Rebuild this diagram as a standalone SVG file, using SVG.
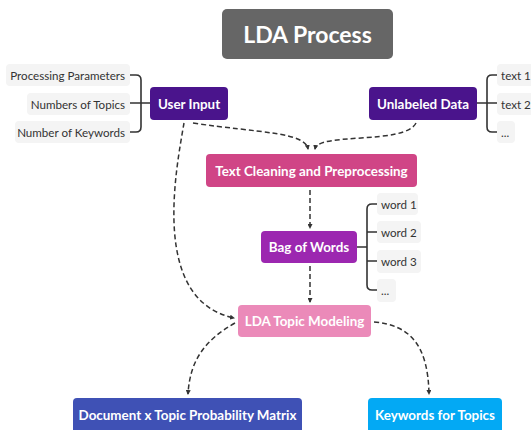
<svg xmlns="http://www.w3.org/2000/svg" width="531" height="430" viewBox="0 0 531 430">
<defs>
<style>
.node text{font-family:Lato,"Open Sans",sans-serif;font-weight:700;fill:#fff;text-anchor:middle;dominant-baseline:central}
.lbl rect{fill:#f4f4f4}
.lbl text{font-family:Lato,"Open Sans",sans-serif;font-size:11.6px;fill:#333;dominant-baseline:central}
.dash{fill:none;stroke:#333;stroke-width:1.5;stroke-dasharray:5 3;marker-end:url(#arr)}
.br{fill:none;stroke:#333;stroke-width:1.6}
</style>
<marker id="arr" viewBox="0 0 10 10" refX="8" refY="5" markerWidth="5" markerHeight="5" orient="auto" markerUnits="userSpaceOnUse">
<path d="M0,0 L10,5 L0,10 z" fill="#333"/>
</marker>
</defs>
<rect width="531" height="430" fill="#fff"/>

<g id="connectors">
<path class="dash" d="M184,123 C176,170 150,300 234,318"/>
<path class="dash" d="M193,123 C260,133 305,132 308,149"/>
<path class="dash" d="M416,123 C405,145 318,132 315,149"/>
<path class="dash" d="M310,190 V228"/>
<path class="dash" d="M310,266 V302"/>
<path class="dash" d="M235,323 C205,340 190,360 188,394"/>
<path class="dash" d="M374,322 C410,325 428,345 429,394"/>
<path class="br" d="M130,75 H136 Q141,75 141,80 V127 Q141,132 136,132 H130 M130,103 H150"/>
<path class="br" d="M497,75 H492 Q487,75 487,80 V127 Q487,132 492,132 H497 M477,103 H497"/>
<path class="br" d="M377,204 H372 Q367,204 367,209 V285 Q367,290 372,290 H377 M357,247 H367 M367,232 H377 M367,261 H377"/>
</g>

<g id="title" class="node"><rect x="222" y="9" width="171" height="50" rx="5" fill="#666"/><text x="307.5" y="34" font-size="23">LDA Process</text></g>

<g id="user-input" class="node"><rect x="150" y="87" width="78" height="33" rx="4" fill="#4a148c"/><text x="189" y="103.5" font-size="13.4">User Input</text></g>
<g id="unlabeled-data" class="node"><rect x="369" y="87" width="108" height="33" rx="4" fill="#4a148c"/><text x="423" y="103.5" font-size="13.4">Unlabeled Data</text></g>
<g id="text-cleaning" class="node"><rect x="206" y="154" width="211" height="33" rx="4" fill="#d04586"/><text x="311.5" y="170.5" font-size="13.4">Text Cleaning and Preprocessing</text></g>
<g id="bag-of-words" class="node"><rect x="261" y="231" width="96" height="32" rx="4" fill="#9c27b0"/><text x="309" y="247" font-size="13.4">Bag of Words</text></g>
<g id="lda-topic-modeling" class="node"><rect x="238" y="305" width="133" height="32" rx="4" fill="#eb8ab9"/><text x="304.5" y="321" font-size="13.4">LDA Topic Modeling</text></g>
<g id="doc-topic-matrix" class="node"><rect x="73" y="398" width="229" height="36" rx="4" fill="#3f51b5"/><text x="187.5" y="415" font-size="13.4">Document x Topic Probability Matrix</text></g>
<g id="keywords-topics" class="node"><rect x="368" y="398" width="134" height="36" rx="4" fill="#03a9f4"/><text x="435" y="415" font-size="13.4">Keywords for Topics</text></g>

<g id="lbl-processing" class="lbl"><rect x="6" y="64" width="124" height="22" rx="4"/><text x="125" y="75" text-anchor="end">Processing Parameters</text></g>
<g id="lbl-topics" class="lbl"><rect x="27" y="93" width="103" height="22" rx="4"/><text x="125" y="104" text-anchor="end">Numbers of Topics</text></g>
<g id="lbl-keywords" class="lbl"><rect x="15" y="121" width="115" height="22" rx="4"/><text x="125" y="132" text-anchor="end">Number of Keywords</text></g>

<g id="lbl-text1" class="lbl"><rect x="497" y="64" width="40" height="22" rx="4"/><text x="501" y="75">text 1</text></g>
<g id="lbl-text2" class="lbl"><rect x="497" y="93" width="40" height="22" rx="4"/><text x="501" y="104">text 2</text></g>
<g id="lbl-textdots" class="lbl"><rect x="497" y="121" width="18" height="22" rx="4"/><text x="501" y="132">...</text></g>

<g id="lbl-word1" class="lbl"><rect x="377" y="193" width="41" height="22" rx="4"/><text x="381" y="204">word 1</text></g>
<g id="lbl-word2" class="lbl"><rect x="377" y="221" width="44" height="22" rx="4"/><text x="381" y="232">word 2</text></g>
<g id="lbl-word3" class="lbl"><rect x="377" y="250" width="44" height="23" rx="4"/><text x="381" y="261.5">word 3</text></g>
<g id="lbl-worddots" class="lbl"><rect x="377" y="279" width="19" height="23" rx="4"/><text x="381" y="290.5">...</text></g>
</svg>
